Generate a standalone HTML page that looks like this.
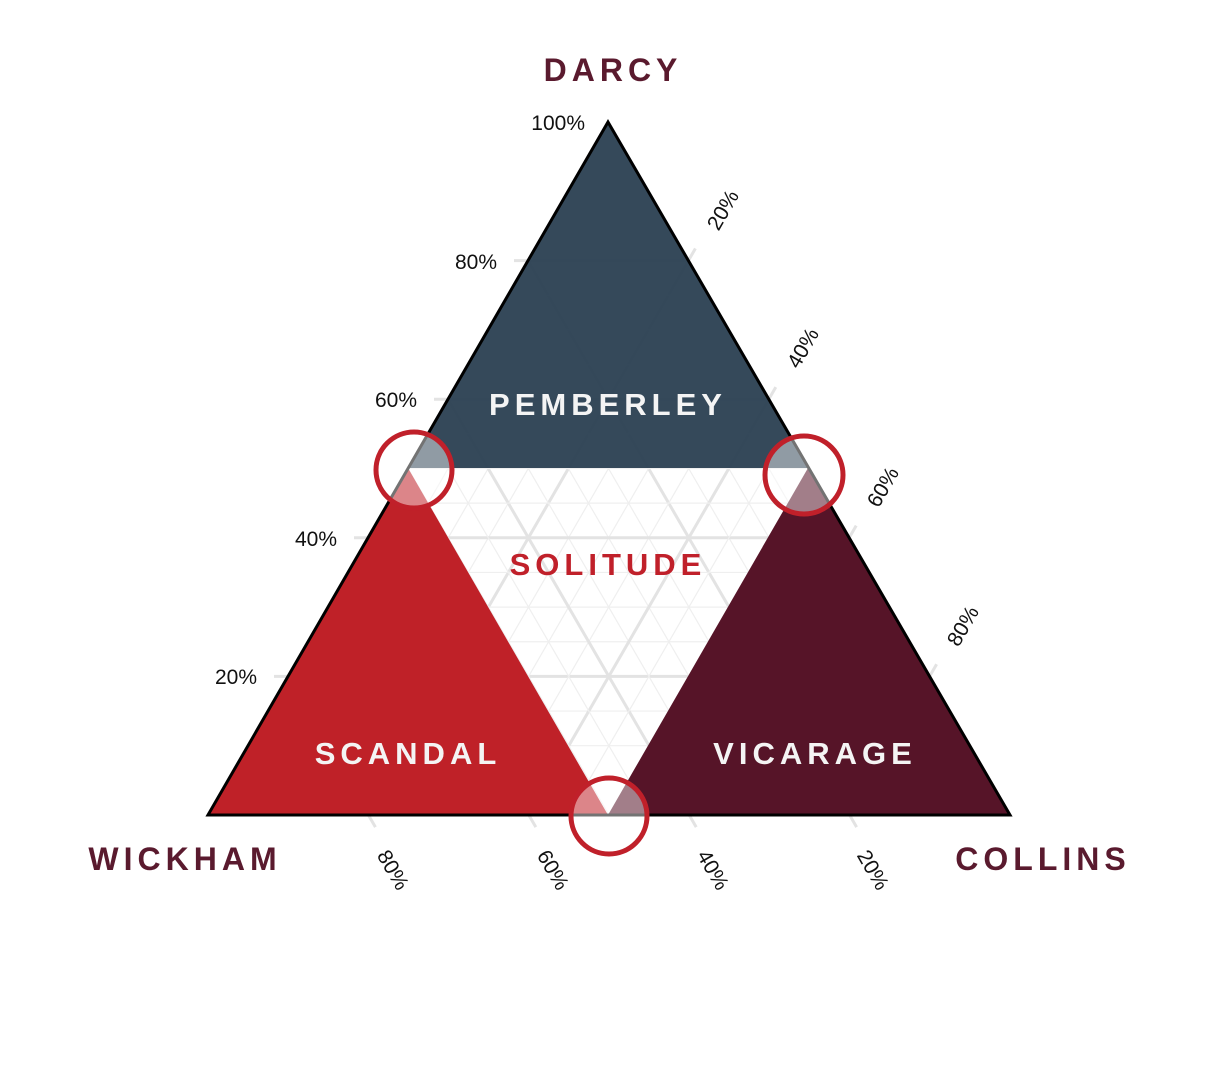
<!DOCTYPE html>
<html><head><meta charset="utf-8"><style>
html,body{margin:0;padding:0;background:#fff;width:1218px;height:1084px;overflow:hidden}
svg{display:block}
.lab{font-family:"Liberation Sans",sans-serif;font-weight:bold;letter-spacing:5px;text-anchor:middle}
.pct{font-family:"Liberation Sans",sans-serif;font-size:21px;fill:#111}
</style></head><body>
<svg id="s" width="1218" height="1084" viewBox="0 0 1218 1084" xmlns="http://www.w3.org/2000/svg">
<g id="grid"></g>
<polygon points="608,122 408,468 808,468" fill="#2e4355" fill-opacity="0.97"/>
<polygon points="408,468 208,815 608,815" fill="#be1d24" fill-opacity="0.98"/>
<polygon points="808,468 608,815 1010,815" fill="#530f24" fill-opacity="0.98"/>
<polygon points="608,122 208,815 1010,815" fill="none" stroke="#000" stroke-width="3" stroke-linejoin="miter"/>
<circle cx="414" cy="470" r="38" fill="#fff" fill-opacity="0.45" stroke="#c0202a" stroke-width="5"/>
<circle cx="804" cy="475" r="39" fill="#fff" fill-opacity="0.45" stroke="#c0202a" stroke-width="5"/>
<circle cx="609" cy="816" r="38" fill="#fff" fill-opacity="0.45" stroke="#c0202a" stroke-width="5"/>
<text class="lab" x="613" y="81" font-size="32" fill="#5a1a2e">DARCY</text>
<text class="lab" x="185" y="870" font-size="32" fill="#5a1a2e">WICKHAM</text>
<text class="lab" x="1043" y="870" font-size="32" fill="#5a1a2e">COLLINS</text>
<text class="lab" x="608" y="415" font-size="31" fill="#f4f4f4">PEMBERLEY</text>
<text class="lab" x="608" y="575" font-size="31" fill="#c0202a">SOLITUDE</text>
<text class="lab" x="408" y="764" font-size="31" fill="#f4f4f4">SCANDAL</text>
<text class="lab" x="815" y="764" font-size="31" fill="#f4f4f4">VICARAGE</text>
<g class="pct" text-anchor="end">
<text x="585" y="130">100%</text>
<text x="497" y="269">80%</text>
<text x="417" y="407">60%</text>
<text x="337" y="546">40%</text>
<text x="257" y="684">20%</text>
</g>
<g class="pct" text-anchor="middle">
<text transform="translate(723,210) rotate(-60)" dy="7">20%</text>
<text transform="translate(803,348) rotate(-60)" dy="7">40%</text>
<text transform="translate(883,487) rotate(-60)" dy="7">60%</text>
<text transform="translate(963,626) rotate(-60)" dy="7">80%</text>
<text transform="translate(393,870) rotate(60)" dy="7">80%</text>
<text transform="translate(553,870) rotate(60)" dy="7">60%</text>
<text transform="translate(713,870) rotate(60)" dy="7">40%</text>
<text transform="translate(873,870) rotate(60)" dy="7">20%</text>
</g>
</svg>
<script>
var A=[608,122],B=[208,815],C=[1010,815];
function P(a,b,c){return [a*A[0]+b*B[0]+c*C[0],a*A[1]+b*B[1]+c*C[1]];}
var g=document.getElementById('grid'),h='';
for(var i=1;i<20;i++){var k=i/20,maj=(i%4==0);
 var segs=[[P(k,1-k,0),P(k,0,1-k),0],[P(1-k,k,0),P(0,k,1-k),1],[P(1-k,0,k),P(0,1-k,k),0]];
 segs.forEach(function(s){var p=s[0],q=s[1];
  if(maj){var dx=q[0]-p[0],dy=q[1]-p[1],L=Math.hypot(dx,dy),e=14;
   if(s[2]==0)p=[p[0]-dx/L*e,p[1]-dy/L*e];else q=[q[0]+dx/L*e,q[1]+dy/L*e];}
  h+='<line x1="'+p[0]+'" y1="'+p[1]+'" x2="'+q[0]+'" y2="'+q[1]+'" stroke="'+(maj?'#e3e3e3':'#efefef')+'" stroke-width="'+(maj?3:1.2)+'"/>';});
}
g.innerHTML=h;
</script>
</body></html>
